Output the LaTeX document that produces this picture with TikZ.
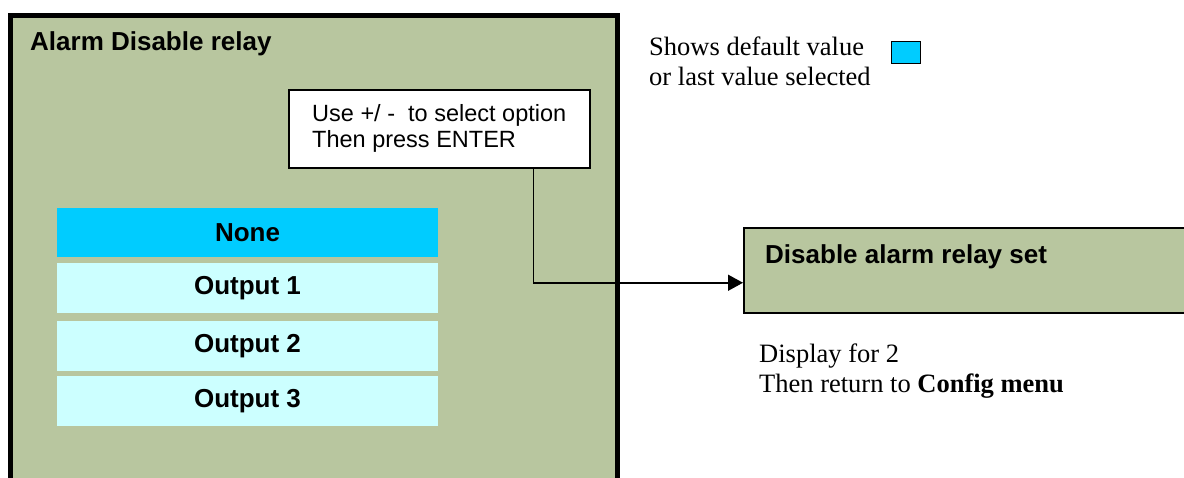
\documentclass[tikz,border=0pt]{standalone}
\usepackage{fontspec}
\setmainfont{Liberation Serif}
\setsansfont{Liberation Sans}
\usetikzlibrary{arrows.meta}
\definecolor{panelgreen}{RGB}{184,198,159}
\definecolor{selcyan}{RGB}{0,204,255}
\definecolor{optcyan}{RGB}{204,255,255}

\begin{document}
\begin{tikzpicture}[x=1pt,y=-1pt,
  optrow/.style={fill=optcyan, minimum width=381pt, minimum height=50pt, inner sep=0pt, font=\sffamily\bfseries\fontsize{26}{30}\selectfont},
  menutext/.style={font=\sffamily\bfseries\fontsize{26}{30}\selectfont, inner sep=0pt},
  remark/.style={font=\fontsize{26.5}{30}\selectfont, align=left, inner sep=0pt}]
\useasboundingbox (0,0) rectangle (1184,477);
\clip (0,0) rectangle (1184,477);
% menu screen
\node[draw, line width=5pt, fill=panelgreen, minimum width=607pt, minimum height=490pt, inner sep=0pt, anchor=north west] (panel) at (7.5,12.5) {};
\node[menutext, anchor=base west] (title) at (30,50) {Alarm Disable relay};
\node[draw, fill=white, line width=1.5pt, anchor=north west, minimum width=301pt, minimum height=78pt, inner sep=0pt, align=left, font=\sffamily\fontsize{23.5}{26}\selectfont] (hint) at (288,89) {Use +/ -\ \ to select option\\Then press ENTER};
\node[optrow, fill=selcyan, minimum height=49pt] (none) at (247.5,232.5) {None};
\node[optrow] (out1) at (247.5,288) {Output 1};
\node[optrow] (out2) at (247.5,346) {Output 2};
\node[optrow] (out3) at (247.5,401) {Output 3};
% result screen
\node[draw, line width=1.5pt, fill=panelgreen, minimum width=470pt, minimum height=85pt, anchor=north west] (done) at (743,227) {};
\node[menutext, anchor=base west] (donetext) at (765,263) {Disable alarm relay set};
\draw[line width=1.5pt, -{Triangle[length=15pt,width=16pt]}] ([xshift=-57pt]hint.south east) |- ([yshift=-12.5pt]done.west);
% notes
\node[remark, anchor=base west] (legend) at (649,85) {Shows default value\\or last value selected};
\node[draw, line width=1.5pt, fill=selcyan, minimum width=29pt, minimum height=22pt, inner sep=0pt, anchor=north west] (key) at (890.75,40.75) {};
\node[remark, anchor=base west] (after) at (759,392) {Display for 2\\Then return to \textbf{Config menu}};
\end{tikzpicture}
\end{document}
